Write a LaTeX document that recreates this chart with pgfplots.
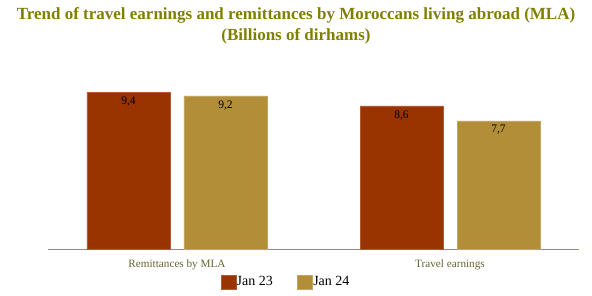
\documentclass[border=0pt]{standalone}
\usepackage{pgfplots}
\pgfplotsset{compat=1.18}
\usepackage{fontspec}
\setmainfont{Liberation Serif}
\definecolor{titleol}{RGB}{128,128,0}
\definecolor{jan23}{RGB}{153,51,0}
\definecolor{jan24}{RGB}{178,142,56}
\definecolor{axol}{RGB}{150,150,60}
\definecolor{catcol}{RGB}{100,100,50}
\begin{document}
\begin{tikzpicture}[x=1pt,y=1pt]
\useasboundingbox (0,0) rectangle (592,295);
\node[font=\fontsize{17}{21.5}\selectfont\bfseries, text=titleol, align=center] at (296,269)
  {Trend of travel earnings and remittances by Moroccans living abroad (MLA)\\(Billions of dirhams)};
\begin{axis}[
  at={(48pt,45.5pt)}, anchor=south west,
  scale only axis, width=531pt, height=167pt,
  xmin=-0.4725, xmax=1.4725, ymin=0, ymax=10,
  axis x line*=bottom, axis y line=none,
  x axis line style={draw=axol, line width=1.6pt, -},
  xtick={0,1}, xticklabels={Remittances by MLA, Travel earnings},
  major tick length=0pt,
  xticklabel style={font=\fontsize{11.2}{13}\selectfont, text=catcol, yshift=-7pt},
  ybar=14pt, bar width=83pt,
  point meta=explicit symbolic,
  nodes near coords,
  nodes near coords style={anchor=north, font=\fontsize{11.5}{13}\selectfont, text=black, yshift=-1pt},
  legend columns=2,
  legend style={at={(0.447,-0.1946)}, anchor=center, draw=none, fill=none,
    font=\fontsize{14}{16}\selectfont, nodes={inner xsep=0.5pt},
    /tikz/every even column/.append style={column sep=24pt}},
  legend image code/.code={\fill[#1] (0pt,-7pt) rectangle (15pt,7pt);},
]
\addplot[fill=jan23, draw=jan23!80!white, line width=0.4pt] coordinates {(0,9.4) [9,4] (1,8.6) [8,6]};
\addplot[fill=jan24, draw=jan24!80!white, line width=0.4pt] coordinates {(0,9.2) [9,2] (1,7.7) [7,7]};
\legend{Jan 23, Jan 24}
\end{axis}
\end{tikzpicture}
\end{document}
